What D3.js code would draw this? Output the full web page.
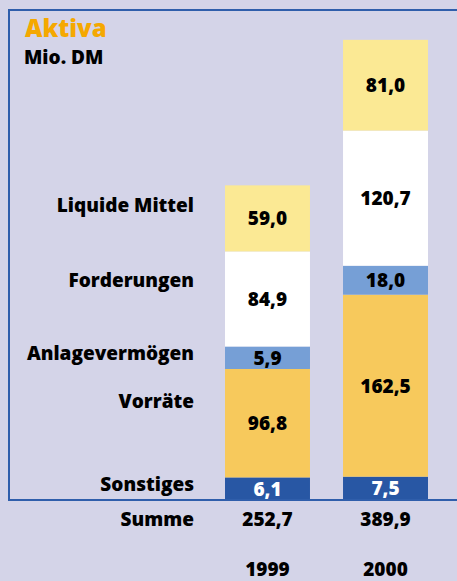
<!DOCTYPE html>
<html lang="de">
<head>
    <meta charset="UTF-8">
    <title>Aktiva</title>
    <script src="https://d3js.org/d3.v7.min.js"></script>
    <style>
        body { margin: 0; background: #d4d4e8; }
        svg text { font-family: "Open Sans", Lato, sans-serif; font-weight: 800; }
    </style>
</head>
<body>
    <div id="chart"></div>
    <script>
        // data, bottom to top
        const categories = ["Sonstiges", "Vorräte", "Anlagevermögen", "Forderungen", "Liquide Mittel"];
        const years = ["1999", "2000"];
        const values1999 = [6.1, 96.8, 5.9, 84.9, 59.0];
        const values2000 = [7.5, 162.5, 18.0, 120.7, 81.0];
        const totals = [252.7, 389.9];

        const W = 457, H = 581;
        const base = 500;
        const fmt = v => d3.format(".1f")(v).replace(".", ",");

        const svg = d3.select("#chart").append("svg")
            .attr("width", W)
            .attr("height", H);

        svg.append("rect").attr("width", W).attr("height", H).attr("fill", "#d4d4e8");

        // frame (open to the right)
        svg.append("rect")
            .attr("x", 9).attr("y", 10)
            .attr("width", 470).attr("height", base - 10)
            .attr("fill", "none")
            .attr("stroke", "#2f5eab")
            .attr("stroke-width", 2);

        const x = d3.scaleBand()
            .domain(years)
            .range([225, 428])
            .paddingInner(0.28)
            .paddingOuter(0);

        const y = d3.scaleLinear()
            .domain([0, 200])
            .range([0, 224]);

        // small segments get a minimum height so the labels fit (as in the original)
        const hMin = d3.scaleLinear()
            .domain([5, 20])
            .range([22, 30]);

        const segH = v => Math.max(y(v), hMin(v));

        const color = d3.scaleOrdinal()
            .domain(categories)
            .range(["#2857a4", "#f7c95c", "#769fd6", "#ffffff", "#fbe994"]);

        const series = [values1999, values2000];
        const segs = [];
        series.forEach((vals, i) => {
            let top = base;
            vals.forEach((v, j) => {
                const hh = segH(v);
                top -= hh;
                segs.push({ year: years[i], cat: categories[j], value: v, y: top, h: hh });
            });
        });

        svg.selectAll("rect.seg")
            .data(segs)
            .enter()
            .append("rect")
            .attr("class", "seg")
            .attr("x", d => x(d.year))
            .attr("y", d => d.y)
            .attr("width", x.bandwidth())
            .attr("height", d => d.h)
            .attr("fill", d => color(d.cat));

        svg.selectAll("text.val")
            .data(segs)
            .enter()
            .append("text")
            .attr("class", "val")
            .attr("x", d => x(d.year) + x.bandwidth() / 2)
            .attr("y", d => d.y + d.h / 2)
            .attr("dy", "0.36em")
            .attr("text-anchor", "middle")
            .attr("font-size", 19)
            .attr("fill", d => d.cat === "Sonstiges" ? "#fff" : "#000")
            .text(d => fmt(d.value));

        // category labels next to the 1999 bar
        svg.selectAll("text.cat")
            .data(segs.filter(d => d.year === years[0]))
            .enter()
            .append("text")
            .attr("class", "cat")
            .attr("x", 194)
            .attr("y", d => d.y + d.h / 2 - 0.2 * d.h)
            .attr("dy", "0.36em")
            .attr("text-anchor", "end")
            .attr("font-size", 19)
            .text(d => d.cat);

        // line at the bottom of the frame over the bars
        svg.append("line")
            .attr("x1", 9).attr("x2", W)
            .attr("y1", base).attr("y2", base)
            .attr("stroke", "#2f5eab")
            .attr("stroke-width", 2);

        svg.append("text")
            .attr("x", 194).attr("y", base + 19)
            .attr("dy", "0.36em")
            .attr("text-anchor", "end")
            .attr("font-size", 19)
            .text("Summe");

        svg.selectAll("text.sum")
            .data(totals)
            .enter()
            .append("text")
            .attr("x", (d, i) => x(years[i]) + x.bandwidth() / 2)
            .attr("y", base + 19)
            .attr("dy", "0.36em")
            .attr("text-anchor", "middle")
            .attr("font-size", 19)
            .text(d => fmt(d));

        svg.selectAll("text.year")
            .data(years)
            .enter()
            .append("text")
            .attr("x", d => x(d) + x.bandwidth() / 2)
            .attr("y", base + 69)
            .attr("dy", "0.36em")
            .attr("text-anchor", "middle")
            .attr("font-size", 19)
            .text(d => d);

        svg.append("text")
            .attr("x", 25).attr("y", 37)
            .attr("font-size", 24)
            .attr("fill", "#f5a800")
            .text("Aktiva");

        svg.append("text")
            .attr("x", 24).attr("y", 64)
            .attr("font-size", 19)
            .text("Mio. DM");
    </script>
</body>
</html>
